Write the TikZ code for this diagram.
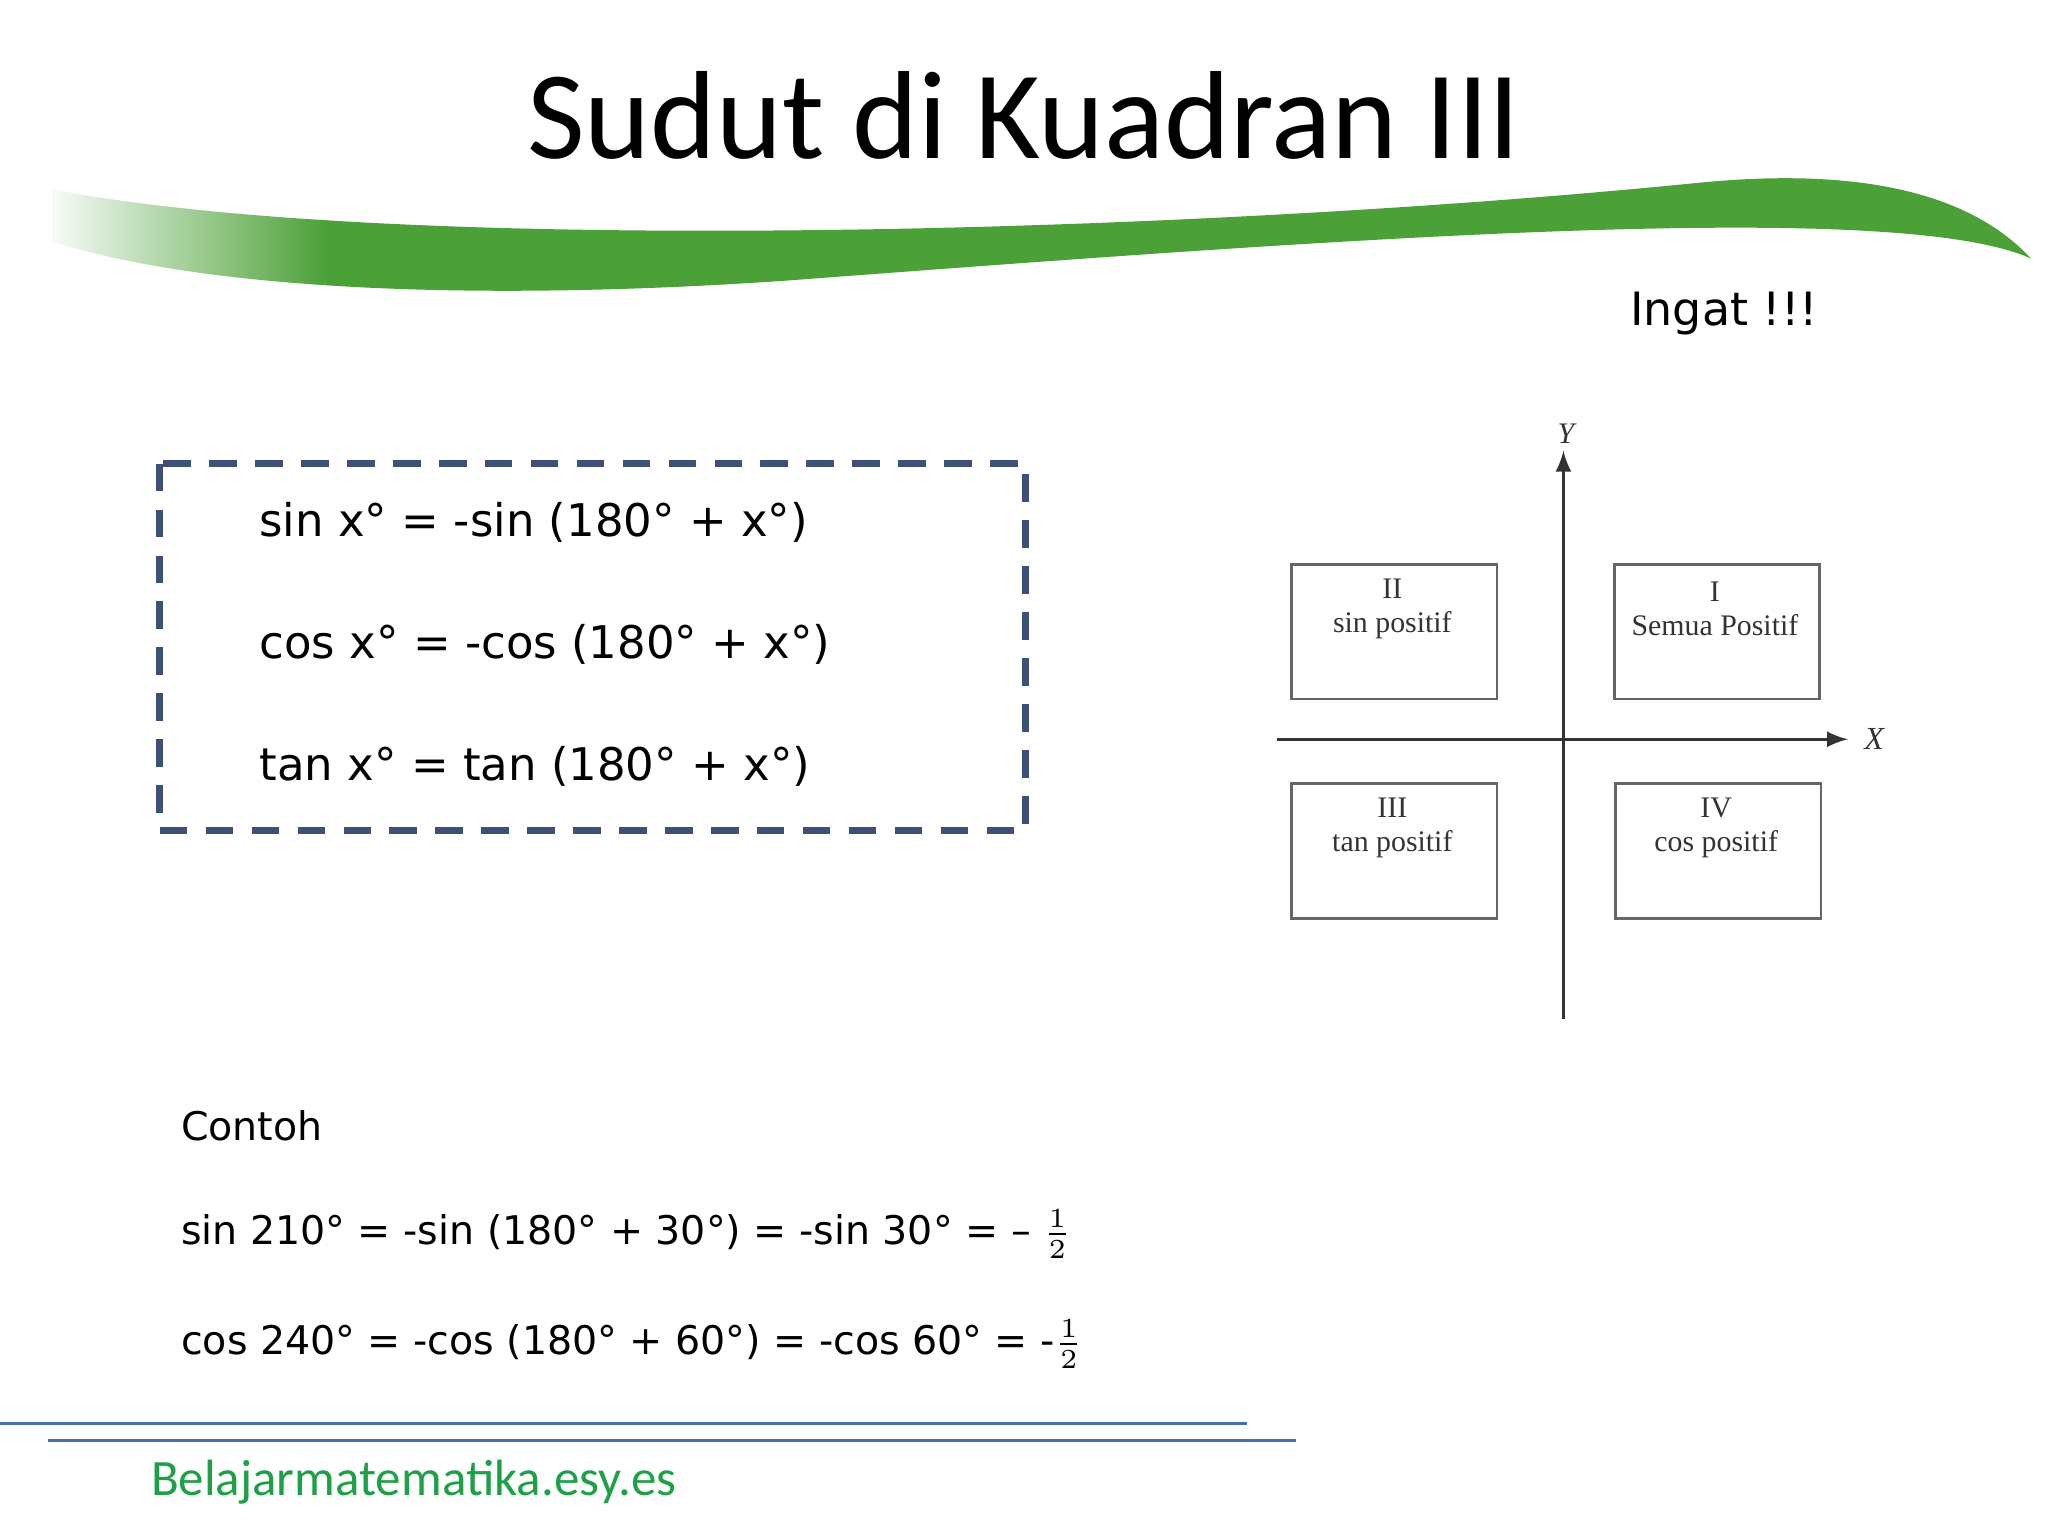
\documentclass[tikz,border=0pt]{standalone}
\usepackage{fontspec}
\setmainfont{Carlito}
\newfontfamily\serifq{Liberation Serif}
\newfontfamily\comicq{DejaVu Sans}
\begin{document}
\begin{tikzpicture}[x=0.01cm,y=-0.01cm,
  qbox/.style={draw=black!60,line width=0.6pt,minimum width=1.57cm,minimum height=1.03cm,anchor=north west,inner sep=0pt},
  qtext/.style={font=\serifq\fontsize{6.5}{7.5}\selectfont,align=center,text=black!80},
  eq/.style={anchor=west,inner sep=0pt,font=\comicq\fontsize{9.8}{13}\selectfont},
  ex/.style={anchor=west,inner sep=0pt,font=\comicq\fontsize{8.6}{12}\selectfont}]
\useasboundingbox (0,0) rectangle (1568,1176);
\definecolor{swg}{RGB}{75,160,55}
\definecolor{dbl}{RGB}{60,80,120}
\definecolor{lbl}{RGB}{70,110,180}
\definecolor{ftg}{RGB}{30,160,70}
\node (title) at (784,88) {\fontsize{27.3}{32}\selectfont Sudut di Kuadran III};
\def\swoosh{(40,145) .. controls (300,195) and (900,180) .. (1300,140) .. controls (1450,125) and (1520,160) .. (1555,198) .. controls (1450,150) and (1000,185) .. (600,215) .. controls (350,232) and (150,220) .. (40,185) -- cycle}
\begin{scope}
\clip \swoosh;
\fill[swg] (250,100) rectangle (1600,260);
\shade[left color=white,right color=swg] (30,100) rectangle (251,260);
\end{scope}
\node (ingat) at (1320,240) {\comicq\fontsize{10}{13}\selectfont Ingat !!!};
\draw[dbl,line width=1.4pt,dash pattern=on 6pt off 4pt] (122,355) rectangle (785,636);
\node[eq] (e1) at (198,400) {sin x° = -sin (180° + x°)};
\node[eq] (e2) at (198,493) {cos x° = -cos (180° + x°)};
\node[eq] (e3) at (198,587) {tan x° = tan (180° + x°)};
\coordinate (yb) at (1197,780); \coordinate (yt) at (1197,345);
\coordinate (xl) at (978,566); \coordinate (xr) at (1415,566);
\draw[-latex,black!80,line width=0.6pt] (yb) -- (yt);
\draw[-latex,black!80,line width=0.6pt] (xl) -- (xr);
\node[qtext,font=\serifq\itshape\fontsize{6.5}{7.5}\selectfont] (ylab) at (1199,332) {Y};
\node[qtext,font=\serifq\itshape\fontsize{7}{8}\selectfont] (xlab) at (1435,566) {X};
\node[qbox] (q2) at (988,431) {}; \node[qtext] at (1066,466) {II\\sin positif};
\node[qbox] (q1) at (1235,431) {}; \node[qtext] at (1313,466) {I\\Semua Positif};
\node[qbox] (q3) at (988,599) {}; \node[qtext] at (1066,634) {III\\tan positif};
\node[qbox] (q4) at (1236,599) {}; \node[qtext] at (1314,634) {IV\\cos positif};
\node[ex] (c0) at (138,862) {Contoh};
\node[ex] (c1) at (138,945) {sin 210° = -sin (180° + 30°) = -sin 30° = – $\frac{1}{2}$};
\node[ex] (c2) at (138,1029) {cos 240° = -cos (180° + 60°) = -cos 60° = -$\frac{1}{2}$};
\draw[lbl,line width=0.6pt] (0,1090) -- (955,1090);
\draw[lbl,line width=0.6pt] (37,1103) -- (992,1103);
\node[anchor=west,inner sep=0pt,text=ftg,font=\fontsize{11.1}{12}\selectfont] (ft) at (115,1135) {Belajarmatematika.esy.es};
\end{tikzpicture}
\end{document}
